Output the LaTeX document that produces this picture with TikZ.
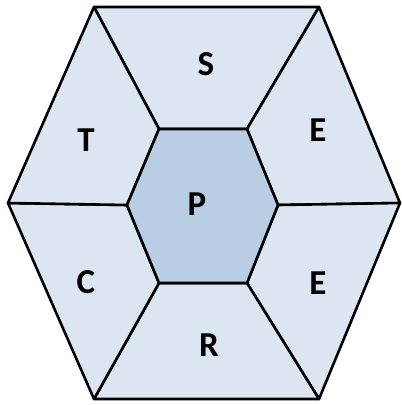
\documentclass[tikz,border=0pt]{standalone}
\usepackage{fontspec}
\setmainfont{Carlito}
\definecolor{outerfill}{HTML}{DCE6F2}
\definecolor{innerfill}{HTML}{B9CDE5}
\begin{document}
\begin{tikzpicture}[x=1pt,y=-1pt,
  seg/.style={draw=black,line width=2.6pt,line join=round,fill=outerfill},
  core/.style={draw=black,line width=2.6pt,line join=round,fill=innerfill},
  lbl/.style={font=\bfseries\fontsize{35}{35}\selectfont,text=black,inner sep=0pt}]
\useasboundingbox (0,0) rectangle (402,405);
% outer vertices
\coordinate (O1) at (94,7);
\coordinate (O2) at (319,7);
\coordinate (O3) at (400,203);
\coordinate (O4) at (319,399);
\coordinate (O5) at (94,399);
\coordinate (O6) at (8,203);
% inner vertices
\coordinate (I1) at (159,129);
\coordinate (I2) at (247,129);
\coordinate (I3) at (278,205);
\coordinate (I4) at (247,283);
\coordinate (I5) at (159,283);
\coordinate (I6) at (127,205);
\path[seg] (O1) -- (O2) -- (I2) -- (I1) -- cycle;
\path[seg] (O2) -- (O3) -- (I3) -- (I2) -- cycle;
\path[seg] (O3) -- (O4) -- (I4) -- (I3) -- cycle;
\path[seg] (O4) -- (O5) -- (I5) -- (I4) -- cycle;
\path[seg] (O5) -- (O6) -- (I6) -- (I5) -- cycle;
\path[seg] (O6) -- (O1) -- (I1) -- (I6) -- cycle;
\path[core] (I1) -- (I2) -- (I3) -- (I4) -- (I5) -- (I6) -- cycle;
\node[lbl] (s) at (206,64) {S};
\node[lbl] (e1) at (318,130) {E};
\node[lbl] (t) at (86,140) {T};
\node[lbl] (p) at (197,204) {P};
\node[lbl] (c) at (86,282) {C};
\node[lbl] (e2) at (318,283) {E};
\node[lbl] (r) at (209,345) {R};
\end{tikzpicture}
\end{document}
